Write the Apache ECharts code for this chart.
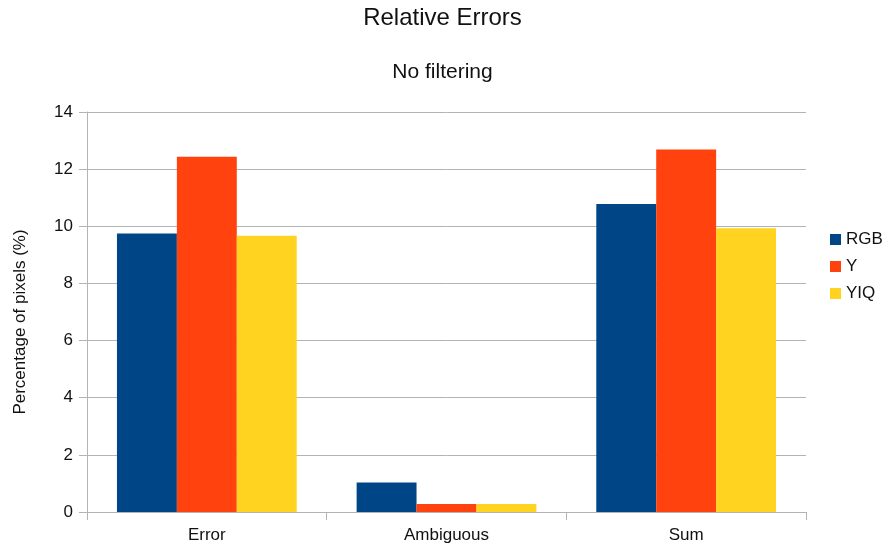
<!DOCTYPE html>
<html>
<head>
<meta charset="utf-8">
<script src="https://cdn.jsdelivr.net/npm/echarts@6/dist/echarts.min.js"></script>
<style>
  html, body { margin: 0; padding: 0; background: #fff; }
  #chart { width: 885px; height: 549px; }
</style>
</head>
<body>
<div id="chart"></div>
<script>
var categories = ["Error", "Ambiguous", "Sum"];
var rgbValues = [9.75, 1.03, 10.78];
var yValues = [12.43, 0.28, 12.69];
var yiqValues = [9.67, 0.28, 9.93];
var seriesNames = ["RGB", "Y", "YIQ"];
var seriesColors = ["#004586", "#ff420e", "#ffd320"];

var chart = echarts.init(document.getElementById("chart"));
var font = "'Liberation Sans', Arial, sans-serif";

function bar(name, data, color) {
  return {
    name: name,
    type: "bar",
    data: data,
    barGap: "0%",
    barCategoryGap: "25%",
    itemStyle: { color: color },
    animation: false
  };
}

var option = {
  textStyle: { fontFamily: font },
  title: [
    {
      text: "Relative Errors",
      left: "center",
      top: 1,
      textStyle: { fontSize: 24, fontWeight: "normal", color: "#111", fontFamily: font }
    },
    {
      text: "No filtering",
      left: "center",
      top: 57,
      textStyle: { fontSize: 21, fontWeight: "normal", color: "#111", fontFamily: font }
    }
  ],
  legend: {
    orient: "vertical",
    left: 825,
    top: 226,
    itemWidth: 11,
    itemHeight: 11,
    itemGap: 10,
    icon: "rect",
    textStyle: { fontSize: 17, color: "#111", fontFamily: font },
    data: seriesNames
  },
  grid: { left: 87, right: 79, top: 112, bottom: 37 },
  xAxis: {
    type: "category",
    data: categories,
    axisLine: { lineStyle: { color: "#b3b3b3" } },
    axisTick: { show: true, alignWithLabel: false, length: 8, lineStyle: { color: "#b3b3b3" } },
    axisLabel: { fontSize: 17, color: "#111", margin: 15, fontFamily: font }
  },
  yAxis: {
    type: "value",
    min: 0,
    max: 14,
    interval: 2,
    name: "Percentage of pixels (%)",
    nameLocation: "middle",
    nameGap: 58,
    nameRotate: 90,
    nameTextStyle: { fontSize: 17, color: "#111", fontFamily: font, padding: [0, 20, 0, 0] },
    axisLine: { show: true, lineStyle: { color: "#b3b3b3" } },
    axisTick: { show: true, length: 8, lineStyle: { color: "#b3b3b3" } },
    axisLabel: { fontSize: 17, color: "#111", margin: 14, fontFamily: font },
    splitLine: { lineStyle: { color: "#b3b3b3" } }
  },
  series: [
    bar(seriesNames[0], rgbValues, seriesColors[0]),
    bar(seriesNames[1], yValues, seriesColors[1]),
    bar(seriesNames[2], yiqValues, seriesColors[2])
  ]
};

chart.setOption(option);
</script>
</body>
</html>
